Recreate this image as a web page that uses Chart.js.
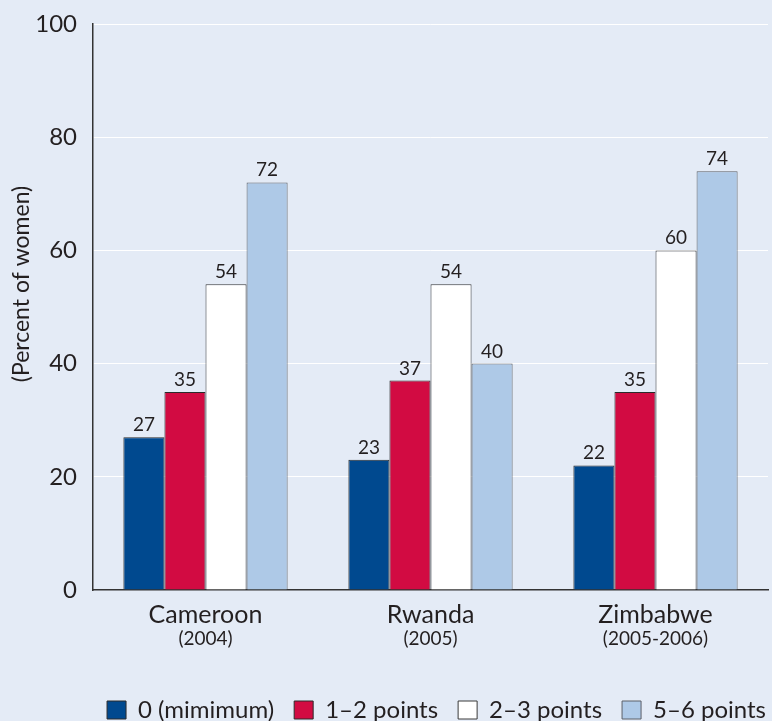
<!DOCTYPE html>
<html>
<head>
<meta charset="utf-8">
<script src="https://cdn.jsdelivr.net/npm/chart.js@4/dist/chart.umd.min.js"></script>
<style>
html, body { margin: 0; padding: 0; background: #e4ebf6; }
canvas { display: block; }
</style>
</head>
<body>
<canvas id="chart" width="772" height="721"></canvas>
<script>
// data
var countries = ['Cameroon', 'Rwanda', 'Zimbabwe'];
var years = ['(2004)', '(2005)', '(2005-2006)'];
var seriesNames = ['0 (mimimum)', '1–2 points', '2–3 points', '5–6 points'];
var minimum = [27, 23, 22];
var points12 = [35, 37, 35];
var points23 = [54, 54, 60];
var points56 = [72, 40, 74];
var yTicks = [0, 20, 40, 60, 80, 100];
var yTitle = '(Percent of women)';

var FONT = 'Lato';
var TEXT = '#231f20';
var colors = ['#00498f', '#d20b42', '#ffffff', '#aec9e7'];
var borders = ['#2b2b2b', '#2b2b2b', '#3a3a3a', '#5c6068'];

var series = [minimum, points12, points23, points56];
var datasets = series.map(function (vals, i) {
    return {
        label: seriesNames[i],
        data: vals,
        backgroundColor: colors[i],
        borderColor: borders[i],
        borderWidth: 1,
        categoryPercentage: 0.73,
        barPercentage: 1.0
    };
});

// value labels above bars, years under country names, rotated y title
var extras = {
    id: 'extras',
    afterLayout: function (chart) {
        // legend row sits a bit further right in the original
        chart.legend.left += 18;
        chart.legend.right += 18;
    },
    afterDatasetsDraw: function (chart) {
        var ctx = chart.ctx;
        ctx.save();
        ctx.fillStyle = TEXT;
        ctx.font = '19px ' + FONT;
        ctx.textAlign = 'center';
        ctx.textBaseline = 'alphabetic';
        chart.data.datasets.forEach(function (ds, di) {
            chart.getDatasetMeta(di).data.forEach(function (bar, j) {
                ctx.fillText(String(Math.round(ds.data[j])), bar.x, bar.y - 6);
            });
        });
        var x = chart.scales.x;
        ctx.font = '19px ' + FONT;
        ctx.textBaseline = 'middle';
        years.forEach(function (y, i) {
            ctx.fillText(y, x.getPixelForValue(i), 639);
        });
        ctx.translate(22, 284);
        ctx.rotate(-Math.PI / 2);
        ctx.font = '23px ' + FONT;
        ctx.fillText(yTitle, 0, 0);
        ctx.restore();
    }
};

new Chart(document.getElementById('chart'), {
    type: 'bar',
    data: { labels: countries, datasets: datasets },
    plugins: [extras],
    options: {
        responsive: false,
        animation: false,
        layout: { padding: { top: 24, right: 4, left: 0, bottom: -11 } },
        plugins: {
            legend: {
                position: 'bottom',
                align: 'end',
                labels: {
                    font: { family: FONT, size: 24 },
                    color: TEXT,
                    boxWidth: 19,
                    boxHeight: 18,
                    padding: 20
                }
            },
            tooltip: { enabled: false }
        },
        scales: {
            x: {
                grid: { display: false },
                border: { display: true, color: '#333333', width: 1.5 },
                ticks: { font: { family: FONT, size: 25 }, color: TEXT, padding: 2 },
                afterFit: function (s) { s.height = 88; }
            },
            y: {
                min: 0,
                max: 100,
                afterBuildTicks: function (s) {
                    s.ticks = yTicks.map(function (v) { return { value: v }; });
                },
                grid: {
                    drawTicks: false,
                    color: function (c) { return c.tick && c.tick.value === 0 ? 'rgba(0,0,0,0)' : '#ffffff'; },
                    lineWidth: 1
                },
                border: { display: true, color: '#333333', width: 1.5 },
                ticks: { font: { family: FONT, size: 24 }, color: TEXT, padding: 16 },
                afterFit: function (s) {
                    s.width = 93;
                    s.paddingTop = 0;
                    s.paddingBottom = 0;
                }
            }
        }
    }
});
</script>
</body>
</html>
